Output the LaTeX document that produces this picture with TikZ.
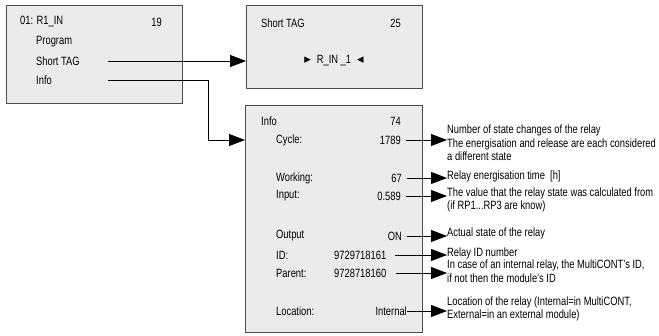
\documentclass[tikz,border=0pt]{standalone}
\usepackage{fontspec}
\setmainfont[FakeStretch=0.78]{Liberation Sans}
\newfontfamily\symfont{DejaVu Sans}
\usetikzlibrary{arrows.meta}
\begin{document}
\begin{tikzpicture}[x=1pt,y=-1pt,
  box/.style={draw=black!70, fill=black!8, line width=0.9pt, inner sep=0, anchor=north west},
  txt/.style={inner sep=0, font=\fontsize{12}{13.5}\selectfont, anchor=west},
  val/.style={inner sep=0, font=\fontsize{12}{13.5}\selectfont, anchor=east},
  desc/.style={inner sep=0, font=\fontsize{12}{13.7}\selectfont, anchor=west, align=left},
  conn/.style={line width=0.75pt, -{Triangle[length=16pt,width=12pt]}}]
\useasboundingbox (0,0) rectangle (659,335);
% boxes
\node[box, minimum width=176pt, minimum height=98pt] (b1) at (6,5) {};
\node[box, minimum width=176pt, minimum height=83pt] (b2) at (246,5) {};
\node[box, minimum width=177pt, minimum height=227pt] (b3) at (245,105) {};
% box 1
\node[txt] (t1) at (20,22) {01: R1\_IN};
\node[val] (n1) at (162,22) {19};
\node[txt] (prog) at (36,42) {Program};
\node[txt] (stag) at (36,61) {Short TAG};
\node[txt] (info) at (36,80) {Info};
\coordinate (s1) at (108,61);
\coordinate (i1) at (108,80);
\coordinate (i2) at (208,80);
% box 2
\node[txt] (t2) at (261,23) {Short TAG};
\node[val] (n2) at (401,23) {25};
\node[inner sep=0, font=\fontsize{12}{13.5}\selectfont] (rin) at (334,61)
  {{\symfont\fontsize{13}{13}\selectfont ▸}\hspace{6pt}R\_IN \_1\hspace{6pt}{\symfont\fontsize{13}{13}\selectfont ◂}};
% box 3
\node[txt] (t3) at (261,121) {Info};
\node[val] (n3) at (401,121) {74};
\node[txt] (lc) at (276,140) {Cycle:};
\node[val] (vc) at (401,140) {1789};
\node[txt] (lw) at (276,178) {Working:};
\node[val] (vw) at (402,178) {67};
\node[txt] (li) at (276,196) {Input:};
\node[val] (vi) at (401,196) {0.589};
\node[txt] (lo) at (276,236) {Output};
\node[val] (vo) at (402,236) {ON};
\node[txt] (lid) at (276,255) {ID:};
\node[txt] (vid) at (334,255) {9729718161};
\node[txt] (lp) at (276,273) {Parent:};
\node[txt] (vp) at (334,273) {9728718160};
\node[txt] (ll) at (276,311) {Location:};
\node[val] (vl) at (407,311) {Internal};
% descriptions
\node[desc] (d1) at (447,143) {Number of state changes of the relay\\The energisation and release are each considered\\a different state};
\node[desc] (d2) at (447,176) {Relay energisation time~~[h]};
\node[desc] (d3) at (447,200) {The value that the relay state was calculated from\\(if RP1...RP3 are know)};
\node[desc] (d4) at (447,233) {Actual state of the relay};
\node[desc] (d5) at (447,253) {Relay ID number};
\node[desc] (d6) at (447,271) {In case of an internal relay, the MultiCONT's ID,\\if not then the module's ID};
\node[desc] (d7) at (447,309) {Location of the relay (Internal=in MultiCONT,\\External=in an external module)};
% connectors
\draw[conn] (s1) -- (s1 -| b2.west);
\draw[conn] (i1) -- (i2) |- (b3.west |- lc);
\draw[conn] ([xshift=5pt]vc.east) -- (vc.east -| d1.west);
\draw[conn] ([xshift=5pt]vw.east) -- (vw.east -| d2.west);
\draw[conn] ([xshift=5pt]vi.east) -- (vi.east -| d3.west);
\draw[conn] ([xshift=5pt]vo.east) -- (vo.east -| d4.west);
\draw[conn] ([xshift=9pt]vid.east) -- (vid.east -| d5.west);
\draw[conn] ([xshift=10pt]vp.east) -- (vp.east -| d6.west);
\draw[conn] (vl.east) -- (vl.east -| d7.west);
\end{tikzpicture}
\end{document}
